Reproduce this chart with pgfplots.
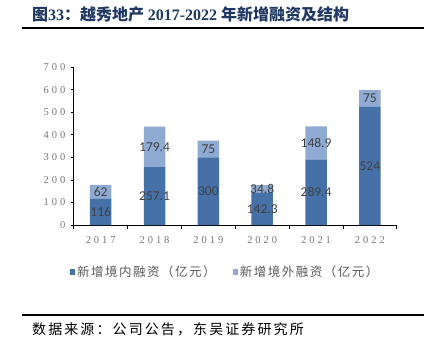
\documentclass[border=0pt]{standalone}
\usepackage{pgfplots}
\usepackage{pgfplotstable}
\pgfplotsset{compat=1.18}
\usepackage{fontspec}
\setmainfont{Liberation Serif}
\newfontfamily\cjk{Noto Sans CJK SC}
\newfontfamily\cjklg[LetterSpace=12]{Noto Sans CJK SC}
\newfontfamily\cjksrc[LetterSpace=15]{Noto Sans CJK SC}
\newfontfamily\tickf[LetterSpace=28]{Liberation Serif}
\newfontfamily\lab{Carlito}
\definecolor{dark}{HTML}{4571A8}
\definecolor{light}{HTML}{8FAAD3}
\definecolor{tickc}{HTML}{767676}
\definecolor{labc}{HTML}{404040}
\definecolor{titlec}{HTML}{1F3864}
\definecolor{legc}{HTML}{595959}

\pgfplotstableread{
x dom for
0 116 62
1 257.1 179.4
2 300 75
3 142.3 34.8
4 289.4 148.9
5 524 75
}\bardata

\pgfplotstableread{
x y lab
0 58 116
0 147 62
1 128.55 257.1
1 346.8 179.4
2 150 300
2 337.5 75
3 71.15 142.3
3 159.7 34.8
4 144.7 289.4
4 363.85 148.9
5 262 524
5 561.5 75
}\labdata

\begin{document}
\begin{tikzpicture}[x=1pt,y=1pt]
\useasboundingbox (0,0) rectangle (429,354);
% title
\node[anchor=west, inner sep=0pt, text=titlec] at (32,340)
  {\fontsize{16}{18}\selectfont{\cjk\bfseries 图}\textbf{33}{\cjk\bfseries ：越秀地产 }\textbf{2017-2022} {\cjk\bfseries 年新增融资及结构}};
\draw[line width=1.3pt] (22,326) -- (424,326);
\draw[line width=1.5pt] (22,39) -- (424,39);
\node[anchor=west, inner sep=0pt] at (32,25)
  {\fontsize{14}{16}\selectfont\cjksrc 数据来源：公司公告，东吴证券研究所};

\begin{axis}[
  at={(73.8pt,129pt)}, anchor=south west,
  scale only axis, width=323pt, height=157.7pt,
  xmin=-0.5, xmax=5.5, ymin=0, ymax=700,
  ybar stacked, bar width=21.5pt,
  axis x line*=bottom, axis y line*=left,
  axis line style={-, line width=1pt, black},
  ytick={0,100,...,700},
  xtick={0,...,5},
  xticklabels={2017,2018,2019,2020,2021,2022},
  x tick style={draw=none},
  y tick style={black, line width=0.8pt},
  tick align=outside,
  major tick length=3pt,
  extra x ticks={-0.5,0.5,...,5.5},
  extra x tick labels={},
  extra x tick style={x tick style={draw=black, line width=0.8pt}, major tick length=4pt},
  /pgf/number format/assume math mode=true,
  ticklabel style={font=\fontsize{10.5}{12}\selectfont\tickf, text=tickc},
  yticklabel style={xshift=-2pt},
  xticklabel style={yshift=-5pt},
  legend style={at={(0.467,-0.298)}, anchor=center, draw=none, fill=none,
    legend columns=2, font=\fontsize{12.5}{14}\selectfont\cjklg, text=legc,
    /tikz/every odd column/.append style={column sep=1pt},
    /tikz/every even column/.append style={column sep=16pt},
    nodes={inner sep=1pt}},
  legend image code/.code={\path[#1, draw=none] (0pt,-2.6pt) rectangle (5.2pt,2.6pt);},
]
\addplot[fill=dark, draw=none] table[x=x, y=dom] {\bardata};
\addplot[fill=light, draw=none] table[x=x, y=for] {\bardata};
\legend{新增境内融资（亿元）,新增境外融资（亿元）}
\end{axis}

\begin{axis}[
  at={(73.8pt,129pt)}, anchor=south west,
  scale only axis, width=323pt, height=157.7pt,
  xmin=-0.5, xmax=5.5, ymin=0, ymax=700,
  hide axis, clip=false,
]
\addplot[draw=none, mark=none, nodes near coords, point meta=explicit symbolic,
  nodes near coords style={anchor=center, inner sep=0pt, text=labc, font=\fontsize{13.5}{15}\selectfont\lab}]
  table[x=x, y=y, meta=lab] {\labdata};
\end{axis}
\end{tikzpicture}
\end{document}
